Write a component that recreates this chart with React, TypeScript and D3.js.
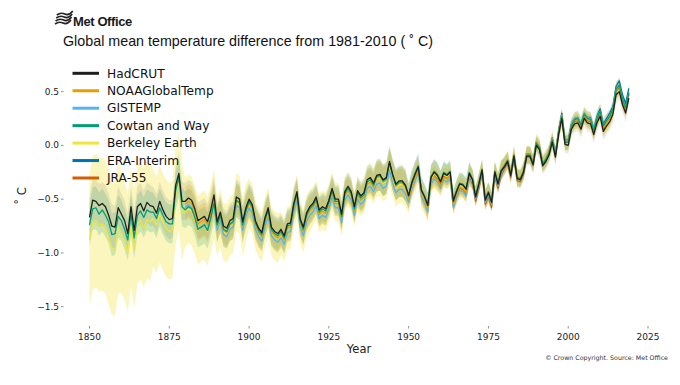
import React from "react";
import * as d3 from "d3";

// anomalies vs 1981-2010 (annual)
const hadcrut = [
  -0.67, -0.51, -0.52, -0.56, -0.54, -0.57, -0.65, -0.75, -0.76, -0.58,
  -0.64, -0.70, -0.82, -0.57, -0.79, -0.57, -0.54, -0.61, -0.53, -0.56,
  -0.57, -0.63, -0.52, -0.60, -0.66, -0.69, -0.68, -0.37, -0.26, -0.52,
  -0.52, -0.49, -0.51, -0.59, -0.70, -0.68, -0.66, -0.71, -0.60, -0.46,
  -0.71, -0.62, -0.75, -0.77, -0.70, -0.68, -0.48, -0.50, -0.71, -0.58,
  -0.50, -0.55, -0.70, -0.77, -0.81, -0.67, -0.58, -0.76, -0.80, -0.82,
  -0.78, -0.84, -0.73, -0.72, -0.54, -0.43, -0.68, -0.76, -0.63, -0.57,
  -0.54, -0.48, -0.60, -0.57, -0.59, -0.51, -0.40, -0.50, -0.50, -0.64,
  -0.43, -0.38, -0.43, -0.57, -0.42, -0.47, -0.44, -0.32, -0.30, -0.35,
  -0.28, -0.27, -0.32, -0.30, -0.15, -0.27, -0.36, -0.33, -0.33, -0.37,
  -0.47, -0.35, -0.27, -0.20, -0.42, -0.48, -0.56, -0.30, -0.25, -0.28,
  -0.34, -0.26, -0.28, -0.25, -0.52, -0.43, -0.36, -0.37, -0.41, -0.26,
  -0.32, -0.48, -0.36, -0.23, -0.51, -0.44, -0.53, -0.25, -0.36, -0.24,
  -0.20, -0.15, -0.28, -0.10, -0.31, -0.32, -0.25, -0.10, -0.10, -0.18,
  0.00, -0.04, -0.19, -0.15, -0.09, 0.03, -0.11, 0.10, 0.25, 0.01,
  0.00, 0.15, 0.20, 0.21, 0.15, 0.25, 0.21, 0.20, 0.10, 0.21,
  0.27, 0.13, 0.18, 0.22, 0.29, 0.47, 0.50, 0.38, 0.30, 0.44,
];
const cowtanWay = [
  -0.74, -0.59, -0.58, -0.64, -0.60, -0.65, -0.71, -0.83, -0.82, -0.66,
  -0.70, -0.78, -0.88, -0.64, -0.86, -0.65, -0.61, -0.67, -0.60, -0.62,
  -0.62, -0.68, -0.58, -0.65, -0.71, -0.73, -0.73, -0.42, -0.30, -0.57,
  -0.60, -0.57, -0.59, -0.67, -0.78, -0.76, -0.74, -0.79, -0.68, -0.54,
  -0.74, -0.65, -0.78, -0.80, -0.73, -0.71, -0.51, -0.53, -0.74, -0.61,
  -0.52, -0.57, -0.72, -0.79, -0.83, -0.69, -0.60, -0.78, -0.82, -0.84,
  -0.80, -0.86, -0.75, -0.74, -0.56, -0.45, -0.70, -0.78, -0.65, -0.59,
  -0.56, -0.50, -0.62, -0.59, -0.61, -0.53, -0.42, -0.52, -0.52, -0.66,
  -0.45, -0.40, -0.45, -0.59, -0.44, -0.49, -0.46, -0.34, -0.32, -0.37,
  -0.29, -0.28, -0.33, -0.31, -0.16, -0.28, -0.37, -0.34, -0.34, -0.38,
  -0.46, -0.34, -0.26, -0.19, -0.41, -0.47, -0.55, -0.29, -0.24, -0.27,
  -0.33, -0.25, -0.27, -0.24, -0.51, -0.42, -0.35, -0.36, -0.40, -0.25,
  -0.31, -0.47, -0.35, -0.22, -0.50, -0.43, -0.52, -0.24, -0.35, -0.23,
  -0.19, -0.14, -0.27, -0.09, -0.30, -0.31, -0.24, -0.09, -0.09, -0.17,
  0.02, -0.02, -0.17, -0.13, -0.07, 0.05, -0.09, 0.12, 0.27, 0.03,
  0.03, 0.18, 0.24, 0.25, 0.19, 0.29, 0.25, 0.24, 0.14, 0.25,
  0.32, 0.18, 0.23, 0.27, 0.34, 0.52, 0.56, 0.43, 0.35, 0.49,
];
const berkeley = [
  -0.88, -0.72, -0.70, -0.74, -0.73, -0.76, -0.86, -0.95, -0.97, -0.76,
  -0.82, -0.89, -1.00, -0.76, -0.96, -0.74, -0.70, -0.77, -0.69, -0.71,
  -0.68, -0.74, -0.64, -0.71, -0.77, -0.80, -0.78, -0.47, -0.34, -0.62,
  -0.62, -0.59, -0.61, -0.69, -0.79, -0.76, -0.74, -0.80, -0.68, -0.54,
  -0.76, -0.68, -0.80, -0.82, -0.75, -0.73, -0.53, -0.55, -0.76, -0.63,
  -0.54, -0.59, -0.74, -0.81, -0.85, -0.71, -0.62, -0.80, -0.84, -0.86,
  -0.82, -0.88, -0.77, -0.76, -0.58, -0.47, -0.72, -0.80, -0.67, -0.61,
  -0.57, -0.51, -0.63, -0.60, -0.62, -0.54, -0.43, -0.53, -0.53, -0.67,
  -0.46, -0.41, -0.46, -0.60, -0.45, -0.50, -0.47, -0.35, -0.33, -0.38,
  -0.31, -0.30, -0.35, -0.33, -0.19, -0.31, -0.40, -0.37, -0.36, -0.40,
  -0.50, -0.38, -0.30, -0.23, -0.45, -0.51, -0.58, -0.32, -0.27, -0.30,
  -0.35, -0.27, -0.29, -0.26, -0.53, -0.44, -0.37, -0.38, -0.42, -0.27,
  -0.32, -0.48, -0.36, -0.23, -0.51, -0.44, -0.53, -0.25, -0.35, -0.23,
  -0.19, -0.14, -0.27, -0.10, -0.30, -0.31, -0.24, -0.09, -0.09, -0.17,
  0.01, -0.03, -0.18, -0.14, -0.08, 0.04, -0.10, 0.11, 0.25, 0.02,
  0.02, 0.17, 0.22, 0.23, 0.17, 0.27, 0.23, 0.22, 0.12, 0.23,
  0.30, 0.15, 0.20, 0.24, 0.31, 0.49, 0.53, 0.41, 0.33, 0.47,
];
// from 1880
const noaa = [
  -0.55, -0.52, -0.54, -0.62, -0.73, -0.71, -0.69, -0.74, -0.63, -0.49,
  -0.75, -0.66, -0.79, -0.81, -0.74, -0.72, -0.52, -0.54, -0.75, -0.62,
  -0.54, -0.59, -0.74, -0.81, -0.85, -0.71, -0.62, -0.80, -0.84, -0.86,
  -0.82, -0.88, -0.77, -0.76, -0.58, -0.47, -0.72, -0.80, -0.67, -0.61,
  -0.58, -0.52, -0.64, -0.61, -0.63, -0.55, -0.44, -0.54, -0.54, -0.68,
  -0.47, -0.42, -0.47, -0.61, -0.46, -0.51, -0.48, -0.36, -0.34, -0.39,
  -0.30, -0.29, -0.34, -0.32, -0.17, -0.29, -0.38, -0.35, -0.35, -0.39,
  -0.50, -0.38, -0.30, -0.23, -0.45, -0.51, -0.59, -0.33, -0.29, -0.32,
  -0.38, -0.30, -0.31, -0.28, -0.55, -0.46, -0.39, -0.40, -0.44, -0.29,
  -0.31, -0.47, -0.35, -0.22, -0.50, -0.43, -0.52, -0.24, -0.35, -0.23,
  -0.18, -0.13, -0.26, -0.08, -0.29, -0.30, -0.23, -0.08, -0.08, -0.16,
  0.03, -0.01, -0.16, -0.12, -0.06, 0.06, -0.08, 0.13, 0.28, 0.04,
  0.04, 0.18, 0.23, 0.24, 0.18, 0.28, 0.24, 0.23, 0.13, 0.24,
  0.31, 0.16, 0.21, 0.25, 0.32, 0.51, 0.55, 0.42, 0.34, 0.48,
];
// from 1880
const gistemp = [
  -0.58, -0.55, -0.58, -0.66, -0.78, -0.76, -0.73, -0.79, -0.67, -0.53,
  -0.79, -0.70, -0.83, -0.85, -0.78, -0.76, -0.56, -0.58, -0.79, -0.66,
  -0.58, -0.63, -0.78, -0.85, -0.89, -0.75, -0.66, -0.84, -0.88, -0.90,
  -0.86, -0.92, -0.81, -0.80, -0.62, -0.51, -0.76, -0.84, -0.71, -0.65,
  -0.62, -0.56, -0.68, -0.65, -0.67, -0.59, -0.48, -0.58, -0.58, -0.72,
  -0.51, -0.46, -0.51, -0.65, -0.50, -0.55, -0.52, -0.40, -0.38, -0.43,
  -0.36, -0.35, -0.40, -0.38, -0.23, -0.35, -0.44, -0.41, -0.41, -0.45,
  -0.53, -0.41, -0.33, -0.26, -0.48, -0.54, -0.62, -0.36, -0.31, -0.34,
  -0.40, -0.32, -0.34, -0.31, -0.58, -0.49, -0.42, -0.43, -0.47, -0.32,
  -0.34, -0.50, -0.38, -0.25, -0.53, -0.46, -0.55, -0.27, -0.38, -0.26,
  -0.20, -0.15, -0.28, -0.10, -0.31, -0.32, -0.25, -0.10, -0.10, -0.18,
  0.03, -0.01, -0.16, -0.12, -0.06, 0.06, -0.08, 0.13, 0.28, 0.04,
  0.05, 0.20, 0.25, 0.26, 0.20, 0.30, 0.26, 0.25, 0.15, 0.26,
  0.32, 0.18, 0.23, 0.27, 0.34, 0.52, 0.56, 0.43, 0.35, 0.49,
];
// from 1979
const eraInterim = [
  -0.24,
  -0.19, -0.14, -0.27, -0.10, -0.30, -0.31, -0.24, -0.08, -0.08, -0.16,
  0.03, -0.02, -0.18, -0.13, -0.06, 0.07, -0.07, 0.14, 0.30, 0.05,
  0.05, 0.20, 0.25, 0.26, 0.19, 0.30, 0.26, 0.26, 0.15, 0.27,
  0.34, 0.20, 0.25, 0.30, 0.36, 0.55, 0.60, 0.47, 0.39, 0.53,
];
// from 1958
const jra55 = [
  -0.28, -0.31,
  -0.37, -0.29, -0.31, -0.28, -0.56, -0.47, -0.40, -0.41, -0.45, -0.30,
  -0.36, -0.52, -0.40, -0.27, -0.55, -0.48, -0.58, -0.29, -0.40, -0.28,
  -0.22, -0.17, -0.30, -0.13, -0.33, -0.34, -0.27, -0.11, -0.11, -0.19,
  0.01, -0.03, -0.18, -0.14, -0.08, 0.05, -0.09, 0.12, 0.27, 0.02,
  0.03, 0.17, 0.22, 0.23, 0.17, 0.27, 0.23, 0.22, 0.12, 0.23,
  0.30, 0.15, 0.21, 0.25, 0.31, 0.50, 0.54, 0.41, 0.33, 0.47,
];

// uncertainty half-widths per decade, 1850s .. 2010s
const hadcrutUnc = [0.2, 0.19, 0.18, 0.17, 0.16, 0.15, 0.14, 0.13, 0.13, 0.15, 0.12, 0.1, 0.09, 0.08, 0.08, 0.08, 0.08];
const cowtanUnc = [0.2, 0.19, 0.18, 0.17, 0.16, 0.15, 0.14, 0.13, 0.12, 0.14, 0.11, 0.1, 0.09, 0.08, 0.07, 0.07, 0.07];
const berkeleyUnc = [0.62, 0.55, 0.45, 0.32, 0.27, 0.23, 0.2, 0.18, 0.16, 0.17, 0.13, 0.11, 0.09, 0.08, 0.07, 0.07, 0.07];
const noaaUnc = [0, 0, 0, 0.16, 0.15, 0.14, 0.13, 0.12, 0.12, 0.13, 0.1, 0.09, 0.09, 0.08, 0.08, 0.08, 0.08];

const xTicks = [1850, 1875, 1900, 1925, 1950, 1975, 2000, 2025];
const yTicks = [-1.5, -1.0, -0.5, 0.0, 0.5];

const series = [
  { name: "HadCRUT", values: hadcrut, start: 1850, color: "#1f1f1f", unc: hadcrutUnc, bandFill: "#5a5a5a", bandOp: 0.12 },
  { name: "NOAAGlobalTemp", values: noaa, start: 1880, color: "#E69F00", unc: noaaUnc, bandFill: "#E69F00", bandOp: 0.22 },
  { name: "GISTEMP", values: gistemp, start: 1880, color: "#56B4E9", unc: null, bandFill: "", bandOp: 0 },
  { name: "Cowtan and Way", values: cowtanWay, start: 1850, color: "#009E73", unc: cowtanUnc, bandFill: "#009E73", bandOp: 0.18 },
  { name: "Berkeley Earth", values: berkeley, start: 1850, color: "#F0E442", unc: berkeleyUnc, bandFill: "#F0E442", bandOp: 0.35 },
  { name: "ERA-Interim", values: eraInterim, start: 1979, color: "#0072B2", unc: null, bandFill: "", bandOp: 0 },
  { name: "JRA-55", values: jra55, start: 1958, color: "#D55E00", unc: null, bandFill: "", bandOp: 0 },
];

const W = 680, H = 385;
const x = d3.scaleLinear().domain([1850, 2025]).range([89.5, 648]);
const y = d3.scaleLinear().domain([-1.5, 0.5]).range([306.7, 91.6]);

type Pt = { yr: number; v: number; u: number };

const toPts = (s: typeof series[number]): Pt[] =>
  s.values.map((v, i) => {
    const yr = s.start + i;
    const dec = Math.floor((yr - 1850) / 10);
    return { yr, v, u: s.unc ? s.unc[dec] : 0 };
  });

const line = d3.line<Pt>().x((d) => x(d.yr)).y((d) => y(d.v));
const area = d3
  .area<Pt>()
  .x((d) => x(d.yr))
  .y0((d) => y(d.v - d.u))
  .y1((d) => y(d.v + d.u));

const tickFont = "DejaVu Sans, sans-serif";

const Logo = () => (
  <g>
    {[0, 1, 2, 3].map((i) => (
      <path
        key={i}
        d={`M${55 + i * 0.6},${24 - i * 3} q4,-3 8,-1 t8,-3`}
        fill="none"
        stroke="#222"
        strokeWidth={1.6}
      />
    ))}
    <text x={73} y={25.5} fontFamily="Liberation Sans, Arial, sans-serif" fontWeight="bold" fontSize={13} letterSpacing={-0.4} fill="#1a1a1a">
      Met Office
    </text>
  </g>
);

export default function App() {
  const bandOrder = ["Berkeley Earth", "Cowtan and Way", "HadCRUT", "NOAAGlobalTemp"];
  const lineOrder = ["Berkeley Earth", "JRA-55", "ERA-Interim", "GISTEMP", "NOAAGlobalTemp", "Cowtan and Way", "HadCRUT"];
  const byName = (n: string) => series.find((s) => s.name === n)!;

  return (
    <svg width={W} height={H} style={{ position: "absolute", left: 0, top: 0, background: "#fff" }}>
      <Logo />
      <text x={63} y={46} fontFamily="Liberation Sans, Arial, sans-serif" fontSize={14.3} fill="#111">
        Global mean temperature difference from 1981-2010 ( ˚ C)
      </text>

      {bandOrder.map((n) => {
        const s = byName(n);
        const pts = toPts(s);
        return <path key={n} d={area(pts) || ""} fill={s.bandFill} fillOpacity={s.bandOp} stroke="none" />;
      })}
      {lineOrder.map((n) => {
        const s = byName(n);
        return (
          <path key={n} d={line(toPts(s)) || ""} fill="none" stroke={s.color} strokeWidth={1.3} strokeLinejoin="round" />
        );
      })}

      {/* y axis */}
      {yTicks.map((t) => (
        <g key={t} transform={`translate(0,${y(t)})`}>
          <line x1={61} x2={63.5} stroke="#444" strokeWidth={0.6} />
          <text x={59} dy="0.33em" textAnchor="end" fontFamily={tickFont} fontSize={9} fill="#222">
            {d3.format(".1f")(t).replace("-", "\u2212")}
          </text>
        </g>
      ))}
      <text
        transform={`translate(26,196) rotate(-90)`}
        textAnchor="middle"
        fontFamily={tickFont}
        fontSize={11.5}
        fill="#222"
      >
        ˚ C
      </text>

      {/* x axis */}
      {xTicks.map((t) => (
        <g key={t} transform={`translate(${x(t)},0)`}>
          <line y1={326} y2={328.5} stroke="#444" strokeWidth={0.6} />
          <text y={340} textAnchor="middle" fontFamily={tickFont} fontSize={9} fill="#222">
            {t}
          </text>
        </g>
      ))}
      <text x={359} y={353} textAnchor="middle" fontFamily={tickFont} fontSize={11.5} fill="#222">
        Year
      </text>
      <text x={668} y={360} textAnchor="end" fontFamily={tickFont} fontSize={6.3} fill="#333">
        © Crown Copyright. Source: Met Office
      </text>

      {/* legend */}
      {series.map((s, i) => (
        <g key={s.name} transform={`translate(0,${73.3 + i * 17.45})`}>
          <line x1={72.5} x2={99} stroke={s.color} strokeWidth={3} />
          <text x={107} dy="0.35em" fontFamily={tickFont} fontSize={12.2} fill="#111">
            {s.name}
          </text>
        </g>
      ))}
    </svg>
  );
}
